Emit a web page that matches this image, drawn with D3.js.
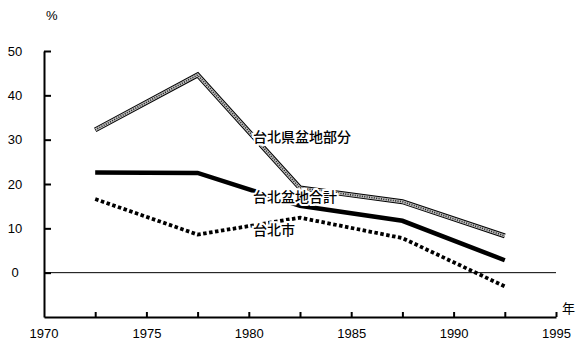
<!DOCTYPE html>
<html lang="ja">
<head>
<meta charset="utf-8">
<title>台北 人口増加率</title>
<script src="https://cdn.jsdelivr.net/npm/d3@7"></script>
<style>
  body { margin: 0; background: #fff; }
  text { font-family: "Liberation Sans", Arial, sans-serif; }
  .jp { font-family: "Noto Sans CJK JP", sans-serif; }
</style>
</head>
<body>
<script>
// data (period midpoints, %)
var years = [1972.5, 1977.5, 1982.5, 1987.5, 1992.5];
var kenBasin = [32.2, 44.6, 19.1, 16.0, 8.3];   // 台北県盆地部分
var basinTotal = [22.6, 22.5, 15.1, 11.7, 2.8]; // 台北盆地合計
var taipeiCity = [16.6, 8.6, 12.4, 7.8, -3.1];  // 台北市
var yTicks = [0, 10, 20, 30, 40, 50];
var xTicks = [1972.5, 1975, 1977.5, 1980, 1982.5, 1985, 1987.5, 1990, 1992.5, 1995];
var xLabels = [1970, 1975, 1980, 1985, 1990, 1995];

var w = 584, h = 351;
var svg = d3.select("body").append("svg").attr("width", w).attr("height", h);

var x = d3.scaleLinear().domain([1970, 1995]).range([44, 556]);
var y = d3.scaleLinear().domain([-10, 50]).range([317, 51]);

// zero line
svg.append("line")
  .attr("x1", x(1970)).attr("x2", x(1995))
  .attr("y1", y(0)).attr("y2", y(0))
  .attr("stroke", "#000").attr("stroke-width", 1);

// y axis
var yAxis = svg.append("g")
  .attr("transform", "translate(" + x(1970) + ",0)")
  .call(d3.axisLeft(y).tickValues(yTicks).tickSizeInner(-7).tickSizeOuter(0));
yAxis.select(".domain").attr("stroke-width", 2);
yAxis.selectAll(".tick line").attr("stroke-width", 2);
yAxis.selectAll("text").attr("font-size", 13).attr("font-family", "Liberation Sans, Arial")
  .attr("text-anchor", "middle").attr("x", 15 - x(1970));

// x axis
var xAxis = svg.append("g")
  .attr("transform", "translate(0," + y(-10) + ")")
  .call(d3.axisBottom(x).tickValues(xTicks).tickSizeInner(-5).tickSizeOuter(0).tickPadding(12)
    .tickFormat(function(d) { return xLabels.indexOf(d) >= 0 ? d : ""; }));
xAxis.select(".domain").attr("stroke-width", 2);
xAxis.selectAll(".tick line").attr("stroke-width", 2);
xAxis.selectAll("text").attr("font-size", 13).attr("font-family", "Liberation Sans, Arial");
// 1970 label at the corner
svg.append("text").attr("x", x(1970)).attr("y", y(-10) + 12).attr("dy", "0.71em")
  .attr("text-anchor", "middle").attr("font-size", 13).text("1970");

svg.append("text").attr("x", 46).attr("y", 20).attr("font-size", 13).text("%");
svg.append("text").attr("class", "jp").attr("x", 562).attr("y", 313).attr("font-size", 13).text("年");

var line = d3.line().x(function(d) { return x(d[0]); }).y(function(d) { return y(d[1]); });
function pts(vals) { return years.map(function(yr, i) { return [yr, vals[i]]; }); }

// 台北県盆地部分: hatched line (dark edges, checkered inside)
svg.append("path").attr("d", line(pts(kenBasin))).attr("fill", "none")
  .attr("stroke", "#000").attr("stroke-width", 5);
svg.append("path").attr("d", line(pts(kenBasin))).attr("fill", "none")
  .attr("stroke", "#bbb").attr("stroke-width", 3);
svg.append("path").attr("d", line(pts(kenBasin))).attr("fill", "none")
  .attr("stroke", "#222").attr("stroke-width", 1.6).attr("stroke-dasharray", "1,1.4");

// 台北盆地合計: thick solid
svg.append("path").attr("d", line(pts(basinTotal))).attr("fill", "none")
  .attr("stroke", "#000").attr("stroke-width", 4.5);

// 台北市: square dots
svg.append("path").attr("d", line(pts(taipeiCity))).attr("fill", "none")
  .attr("stroke", "#000").attr("stroke-width", 3.8).attr("stroke-dasharray", "3.5,2.5");

// labels with white halo masking the lines
var labels = [
  { t: "台北県盆地部分", x: 253, y: 142 },
  { t: "台北盆地合計", x: 253, y: 202 },
  { t: "台北市", x: 253, y: 235 }
];
svg.selectAll(".lbl").data(labels).enter().append("text")
  .attr("class", "jp lbl")
  .attr("x", function(d) { return d.x; })
  .attr("y", function(d) { return d.y; })
  .attr("font-size", 14)
  .attr("font-weight", 500)
  .attr("stroke", "#fff").attr("stroke-width", 4).attr("paint-order", "stroke")
  .attr("fill", "#000")
  .text(function(d) { return d.t; });
</script>
</body>
</html>
